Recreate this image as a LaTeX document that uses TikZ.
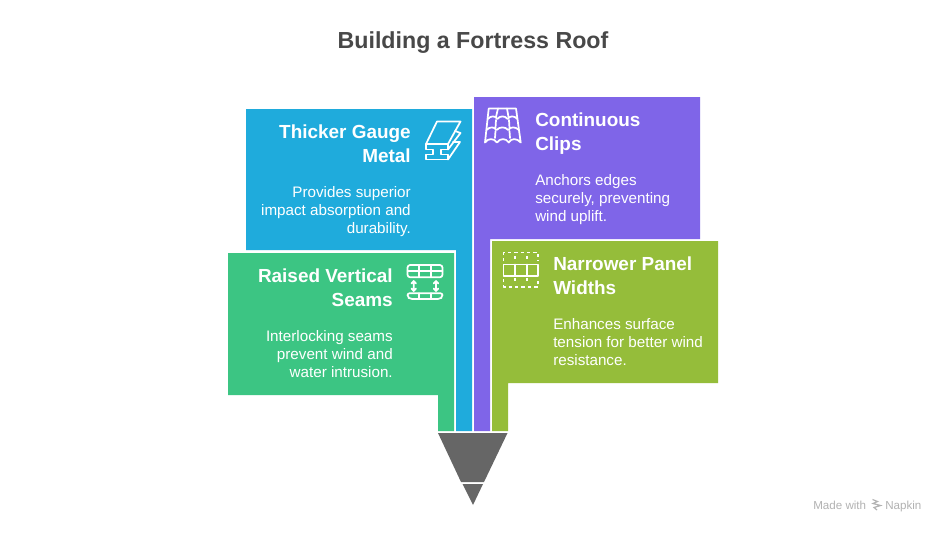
\documentclass[tikz,border=0pt]{standalone}
\usepackage{fontspec}
\setmainfont{Liberation Sans}
\definecolor{cblue}{RGB}{31,171,220}
\definecolor{cpurple}{RGB}{127,101,232}
\definecolor{cgreen}{RGB}{60,197,131}
\definecolor{colive}{RGB}{149,189,58}
\definecolor{cgray}{RGB}{102,102,102}
\definecolor{ctitle}{RGB}{72,72,72}
\tikzset{
  head/.style={inner sep=0pt,text=white,font=\fontsize{14.2}{18}\selectfont\bfseries},
  body/.style={inner sep=0pt,text=white,font=\fontsize{11.4}{13.5}\selectfont},
  ico/.style={draw=white,line width=1.3pt,line join=round,line cap=round},
  credit/.style={inner sep=0pt,text=black!30,font=\fontsize{8.7}{10}\selectfont}
}
\begin{document}
\begin{tikzpicture}[x=0.75pt,y=-0.75pt]
\useasboundingbox (0,0) rectangle (946,532);
\fill[white] (0,0) rectangle (946,532);
\node[inner sep=0pt,text=ctitle,font=\fontsize{17.4}{22}\selectfont\bfseries] (title) at (473,42.5) {Building a Fortress Roof};
% bands
\fill[cblue] (246,109)--(472,109)--(472,431)--(456,431)--(456,250)--(246,250)--cycle;
\fill[cpurple] (474,97)--(700,97)--(700,239)--(490,239)--(490,431)--(474,431)--cycle;
\fill[cgreen] (228,253)--(454,253)--(454,431)--(438,431)--(438,395)--(228,395)--cycle;
\fill[colive] (492,241)--(718,241)--(718,383)--(508,383)--(508,431)--(492,431)--cycle;
% funnel
\fill[cgray] (438,433)--(507.5,433)--(484,482)--(461,482)--cycle;
\fill[cgray] (462.5,484)--(483,484)--(473,505)--cycle;
% texts
\node[head,align=right,anchor=north east] (h1) at (411,125) {Thicker Gauge\\Metal};
\node[body,align=right,anchor=north east] (b1) at (411,186.5) {Provides superior\\impact absorption and\\durability.};
\node[head,align=right,anchor=north east] (h2) at (393,269) {Raised Vertical\\Seams};
\node[body,align=right,anchor=north east] (b2) at (393,330.5) {Interlocking seams\\prevent wind and\\water intrusion.};
\node[head,align=left,anchor=north west] (h3) at (535,113) {Continuous\\Clips};
\node[body,align=left,anchor=north west] (b3) at (535,174.5) {Anchors edges\\securely, preventing\\wind uplift.};
\node[head,align=left,anchor=north west] (h4) at (553,257) {Narrower Panel\\Widths};
\node[body,align=left,anchor=north west] (b4) at (553,318.5) {Enhances surface\\tension for better wind\\resistance.};
% beam icon
\draw[ico] (437,121.5)--(460.5,121.5)--(448,144)--(426,144)--cycle;
\draw[ico] (426,144)--(426,149.5)--(433,149.5)--(433,154.5)--(426,154.5)--(426,159.5)--(448,159.5)--(448,154.5)--(441,154.5)--(441,149.5)--(448,149.5)--(448,144);
\draw[ico] (448,149.5)--(460.5,133)--(455,131);
\draw[ico] (448,159.5)--(460,142)--(453,142);
% roof icon
\draw[ico] (488.7,108.5)--(516,108.5)--(520.7,142.5) .. controls (517,138) and (511,138) .. (508.8,142.5) .. controls (506,138) and (500,138) .. (497,142.5) .. controls (494,138) and (488,138) .. (485,142.5)--cycle;
\draw[ico] (498,108.5)--(496,117) (507,108.5)--(508.5,117) (496,120)--(495.5,128) (509,120)--(509.5,128) (495.5,131)--(495,138) (509.5,131)--(510,138);
\draw[ico] (487.8,119) .. controls (491,115.5) and (495,115.5) .. (497.3,119) .. controls (500,115.5) and (505,115.5) .. (507.6,119) .. controls (510,115.5) and (514,115.5) .. (517.4,119);
\draw[ico] (486.5,130) .. controls (490,126.5) and (494,126.5) .. (496.5,130) .. controls (500,126.5) and (505,126.5) .. (508.2,130) .. controls (511,126.5) and (515,126.5) .. (519,130);
% seams icon
\draw[ico,rounded corners=2pt] (407.5,265)rectangle(442.5,277.3);
\draw[ico] (407.5,271)--(442.5,271) (419,265)--(419,277.3) (431,265)--(431,277.3);
\draw[ico,rounded corners=1.5pt] (407.5,293.3)--(442.5,293.3)--(442.5,297)--(440,299)--(410,299)--(407.5,297)--cycle;
\draw[ico] (419,293.3)--(419,299) (431,293.3)--(431,299);
\draw[ico] (413.7,281)--(413.7,291) (411.4,283.5)--(413.7,281)--(416,283.5) (411.4,288.5)--(413.7,291)--(416,288.5);
\draw[ico] (436,281)--(436,291) (433.7,283.5)--(436,281)--(438.3,283.5) (433.7,288.5)--(436,291)--(438.3,288.5);
% panels icon
\draw[ico] (503.5,264.5) rectangle (538.3,276);
\draw[ico] (515,264.5)--(515,276) (527,264.5)--(527,276);
\draw[ico,line cap=butt,dash pattern=on 2.6pt off 2.2pt] (503.5,261)--(503.5,252.5)--(538.3,252.5)--(538.3,261);
\draw[ico,line cap=butt,dash pattern=on 2.6pt off 2.2pt] (503.5,279)--(503.5,286.7)--(538.3,286.7)--(538.3,279);
\draw[ico,line cap=butt,dash pattern=on 2.6pt off 2.2pt] (515,256)--(515,262) (527,256)--(527,262) (515,278)--(515,284) (527,278)--(527,284);
% credit
\node[credit,anchor=base west] (m) at (813,509) {Made with};
\node[credit,anchor=base west] (n) at (885,509) {Napkin};
\draw[black!30,line width=0.9pt] (872.5,499.5)--(877.5,501.5)--(873,503.5)--(880.5,505.5)--(874,507.5)--(877,510);
\end{tikzpicture}
\end{document}
